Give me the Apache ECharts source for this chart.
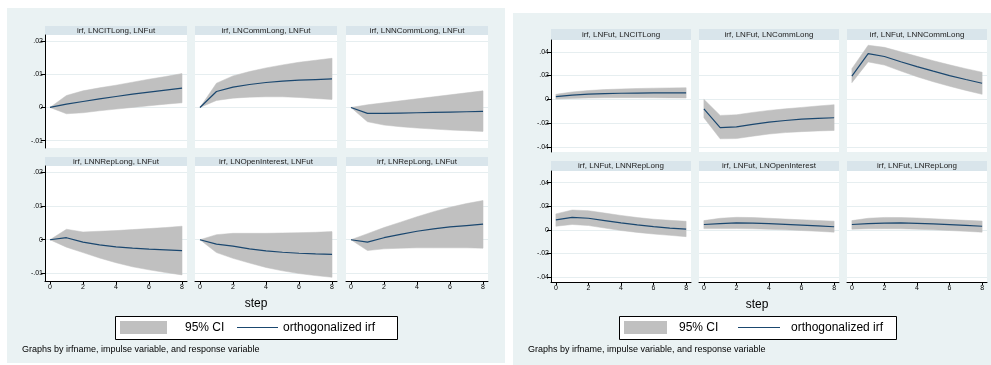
<!DOCTYPE html>
<html>
<head>
<meta charset="utf-8">
<script src="https://cdn.jsdelivr.net/npm/echarts@6/dist/echarts.min.js"></script>
<style>
  html, body { margin: 0; padding: 0; background: #ffffff; }
  #chart { width: 991px; height: 365px; }
</style>
</head>
<body>
<div id="chart"></div>
<script>
// Impulse-response functions, 8-step horizon, with 95% confidence bands
const steps = [0, 1, 2, 3, 4, 5, 6, 7, 8];
const xTicks = [0, 2, 4, 6, 8];
const leftYTicks = [-0.01, 0, 0.01, 0.02];
const rightYTicks = [-0.04, -0.02, 0, 0.02, 0.04];

// Response of LNFut to each impulse
const leftTitles = [
  'irf, LNCITLong, LNFut', 'irf, LNCommLong, LNFut', 'irf, LNNCommLong, LNFut',
  'irf, LNNRepLong, LNFut', 'irf, LNOpenInterest, LNFut', 'irf, LNRepLong, LNFut'
];
const citFutIrf = [0, 0.0010, 0.0018, 0.0026, 0.0033, 0.0040, 0.0046, 0.0052, 0.0058];
const citFutLo  = [0, -0.0019, -0.0016, -0.0010, -0.0005, 0.0000, 0.0005, 0.0010, 0.0014];
const citFutHi  = [0, 0.0036, 0.0050, 0.0059, 0.0067, 0.0076, 0.0085, 0.0093, 0.0102];

const commFutIrf = [0, 0.0048, 0.0061, 0.0069, 0.0075, 0.0079, 0.0082, 0.0084, 0.0086];
const commFutLo  = [0, 0.0021, 0.0028, 0.0031, 0.0032, 0.0032, 0.0030, 0.0027, 0.0024];
const commFutHi  = [0, 0.0073, 0.0095, 0.0108, 0.0119, 0.0128, 0.0136, 0.0142, 0.0148];

const ncommFutIrf = [0, -0.0018, -0.0018, -0.0017, -0.0016, -0.0015, -0.0014, -0.0013, -0.0012];
const ncommFutLo  = [0, -0.0043, -0.0053, -0.0058, -0.0062, -0.0065, -0.0068, -0.0070, -0.0072];
const ncommFutHi  = [0, 0.0008, 0.0014, 0.0020, 0.0026, 0.0032, 0.0038, 0.0044, 0.0050];

const nrepFutIrf = [0, 0.0006, -0.0007, -0.0015, -0.0021, -0.0025, -0.0028, -0.0030, -0.0032];
const nrepFutLo  = [0, -0.0022, -0.0038, -0.0054, -0.0068, -0.0080, -0.0089, -0.0097, -0.0104];
const nrepFutHi  = [0, 0.0031, 0.0023, 0.0025, 0.0027, 0.0030, 0.0033, 0.0036, 0.0040];

const oiFutIrf = [0, -0.0013, -0.0019, -0.0027, -0.0033, -0.0037, -0.0040, -0.0042, -0.0043];
const oiFutLo  = [0, -0.0038, -0.0055, -0.0069, -0.0082, -0.0092, -0.0100, -0.0106, -0.0111];
const oiFutHi  = [0, 0.0015, 0.0019, 0.0019, 0.0019, 0.0020, 0.0021, 0.0022, 0.0024];

const repFutIrf = [0, -0.0007, 0.0006, 0.0016, 0.0025, 0.0032, 0.0038, 0.0042, 0.0046];
const repFutLo  = [0, -0.0032, -0.0027, -0.0025, -0.0024, -0.0024, -0.0024, -0.0024, -0.0025];
const repFutHi  = [0, 0.0018, 0.0036, 0.0052, 0.0068, 0.0083, 0.0096, 0.0107, 0.0116];

// Response of each position variable to an LNFut impulse
const rightTitles = [
  'irf, LNFut, LNCITLong', 'irf, LNFut, LNCommLong', 'irf, LNFut, LNNCommLong',
  'irf, LNFut, LNNRepLong', 'irf, LNFut, LNOpenInterest', 'irf, LNFut, LNRepLong'
];
const futCitIrf = [0.0022, 0.0035, 0.0043, 0.0048, 0.0051, 0.0053, 0.0054, 0.0055, 0.0055];
const futCitLo  = [0.0002, 0.0008, 0.0011, 0.0013, 0.0014, 0.0014, 0.0013, 0.0012, 0.0011];
const futCitHi  = [0.0042, 0.0062, 0.0074, 0.0082, 0.0087, 0.0091, 0.0094, 0.0096, 0.0098];

const futCommIrf = [-0.0080, -0.0238, -0.0232, -0.0210, -0.0192, -0.0178, -0.0167, -0.0160, -0.0155];
const futCommLo  = [-0.0155, -0.0332, -0.0330, -0.0310, -0.0292, -0.0280, -0.0272, -0.0266, -0.0262];
const futCommHi  = [0.0000, -0.0135, -0.0130, -0.0110, -0.0093, -0.0080, -0.0068, -0.0056, -0.0045];

const futNcommIrf = [0.0195, 0.0385, 0.0360, 0.0316, 0.0275, 0.0237, 0.0200, 0.0167, 0.0135];
const futNcommLo  = [0.0140, 0.0315, 0.0288, 0.0238, 0.0190, 0.0148, 0.0110, 0.0075, 0.0042];
const futNcommHi  = [0.0258, 0.0455, 0.0437, 0.0400, 0.0362, 0.0325, 0.0290, 0.0258, 0.0228];

const futNrepIrf = [0.0085, 0.0105, 0.0098, 0.0078, 0.0058, 0.0041, 0.0027, 0.0015, 0.0005];
const futNrepLo  = [0.0030, 0.0045, 0.0036, 0.0015, -0.0006, -0.0022, -0.0036, -0.0047, -0.0058];
const futNrepHi  = [0.0135, 0.0168, 0.0162, 0.0142, 0.0122, 0.0104, 0.0090, 0.0080, 0.0072];

const futOiIrf = [0.0045, 0.0053, 0.0058, 0.0057, 0.0052, 0.0046, 0.0040, 0.0033, 0.0026];
const futOiLo  = [0.0010, 0.0010, 0.0010, 0.0008, 0.0004, 0.0000, -0.0006, -0.0013, -0.0020];
const futOiHi  = [0.0078, 0.0098, 0.0106, 0.0104, 0.0098, 0.0091, 0.0085, 0.0079, 0.0073];

const futRepIrf = [0.0045, 0.0052, 0.0057, 0.0058, 0.0055, 0.0050, 0.0044, 0.0037, 0.0030];
const futRepLo  = [0.0005, 0.0008, 0.0009, 0.0008, 0.0005, 0.0000, -0.0006, -0.0013, -0.0020];
const futRepHi  = [0.0078, 0.0098, 0.0105, 0.0104, 0.0100, 0.0094, 0.0087, 0.0080, 0.0074];

const legendCiText = '95% CI';
const legendIrfText = 'orthogonalized irf';
const xAxisTitle = 'step';
const noteText = 'Graphs by irfname, impulse variable, and response variable';

// ---- styling ----
const FONT = '"Liberation Sans", Arial, Helvetica, sans-serif';
const BG = '#eaf2f3';
const STRIP = '#d9e5eb';
const GRIDLINE = '#e6eef0';
const CI_FILL = '#c0c0c0';
const IRF_LINE = '#1a476f';

const figures = [
  {
    panels: [
      { title: leftTitles[0], irf: citFutIrf,   lo: citFutLo,   hi: citFutHi },
      { title: leftTitles[1], irf: commFutIrf,  lo: commFutLo,  hi: commFutHi },
      { title: leftTitles[2], irf: ncommFutIrf, lo: ncommFutLo, hi: ncommFutHi },
      { title: leftTitles[3], irf: nrepFutIrf,  lo: nrepFutLo,  hi: nrepFutHi },
      { title: leftTitles[4], irf: oiFutIrf,    lo: oiFutLo,    hi: oiFutHi },
      { title: leftTitles[5], irf: repFutIrf,   lo: repFutLo,   hi: repFutHi }
    ],
    yTicks: leftYTicks, yMin: -0.0122, yMax: 0.0218,
    bg: { x: 7, y: 8, w: 498, h: 355 },
    colX: [45, 195, 346], colW: 142,
    rowTop: [35, 166], rowH: [113, 115], stripH: [9, 9],
    legend: { x: 115, y: 316, w: 282, h: 23, sw: 47, txt1: 185, l1: 237, l2: 278, txt2: 283 },
    stepPos: { x: 256, y: 304 },
    notePos: { x: 22, y: 350 }
  },
  {
    panels: [
      { title: rightTitles[0], irf: futCitIrf,   lo: futCitLo,   hi: futCitHi },
      { title: rightTitles[1], irf: futCommIrf,  lo: futCommLo,  hi: futCommHi },
      { title: rightTitles[2], irf: futNcommIrf, lo: futNcommLo, hi: futNcommHi },
      { title: rightTitles[3], irf: futNrepIrf,  lo: futNrepLo,  hi: futNrepHi },
      { title: rightTitles[4], irf: futOiIrf,    lo: futOiLo,    hi: futOiHi },
      { title: rightTitles[5], irf: futRepIrf,   lo: futRepLo,   hi: futRepHi }
    ],
    yTicks: rightYTicks, yMin: -0.0443, yMax: 0.0499,
    bg: { x: 513, y: 13, w: 478, h: 352 },
    colX: [551, 699, 847], colW: 140,
    rowTop: [40, 171], rowH: [112, 111], stripH: [11, 10],
    legend: { x: 619, y: 316, w: 277, h: 23, sw: 43, txt1: 679, l1: 738, l2: 780, txt2: 791 },
    stepPos: { x: 757, y: 305 },
    notePos: { x: 528, y: 350 }
  }
];

function stataTick(v) {
  if (Math.abs(v) < 1e-12) return '0';
  const s = String(+Math.abs(v).toFixed(4)).replace(/^0/, '');
  return (v < 0 ? '-' : '') + s;
}

// Confidence band: one polygon through the upper bounds and back along the lower bounds
function renderBand(params, api) {
  if (params.dataIndexInside !== 0) return null;
  const n = params.dataInsideLength;
  const upper = [], lower = [];
  for (let j = 0; j < n; j++) {
    upper.push(api.coord([api.value(0, j), api.value(2, j)]));
    lower.push(api.coord([api.value(0, j), api.value(1, j)]));
  }
  return {
    type: 'polygon',
    shape: { points: upper.concat(lower.reverse()) },
    style: { fill: CI_FILL, stroke: CI_FILL, lineWidth: 0.5 }
  };
}

const grids = [], xAxes = [], yAxes = [], series = [], graphics = [];

figures.forEach(fig => {
  // figure background
  graphics.push({
    type: 'rect', z: -10, silent: true,
    shape: { x: fig.bg.x, y: fig.bg.y, width: fig.bg.w, height: fig.bg.h },
    style: { fill: BG }
  });

  fig.panels.forEach((p, i) => {
    const row = Math.floor(i / 3), col = i % 3;
    const k = grids.length;
    const left = fig.colX[col], top = fig.rowTop[row];
    const w = fig.colW, h = fig.rowH[row], sh = fig.stripH[row];

    grids.push({
      left: left, top: top, width: w, height: h,
      show: true, backgroundColor: '#ffffff', borderWidth: 0, containLabel: false
    });

    xAxes.push({
      gridIndex: k, type: 'value', min: -0.3, max: 8.3,
      axisLine: { show: row === 1, onZero: false, lineStyle: { color: '#000', width: 1 } },
      axisTick: { show: row === 1, customValues: xTicks, length: 3, lineStyle: { color: '#000' } },
      axisLabel: { show: row === 1, customValues: xTicks, fontSize: 7, fontFamily: FONT, color: '#000', margin: 3 },
      splitLine: { show: false }
    });

    yAxes.push({
      gridIndex: k, type: 'value', min: fig.yMin, max: fig.yMax,
      axisLine: { show: col === 0, onZero: false, lineStyle: { color: '#000', width: 1 } },
      axisTick: { show: col === 0, customValues: fig.yTicks, length: 4, lineStyle: { color: '#000' } },
      axisLabel: { show: col === 0, customValues: fig.yTicks, formatter: stataTick,
                   fontSize: 7, fontFamily: FONT, color: '#000', margin: 2 },
      splitLine: { show: true, lineStyle: { color: GRIDLINE, width: 1 } }
    });

    series.push({
      name: legendCiText, type: 'custom', xAxisIndex: k, yAxisIndex: k, silent: true,
      renderItem: renderBand,
      encode: { x: 0, y: [1, 2] },
      data: steps.map((s, j) => [s, p.lo[j], p.hi[j]])
    });
    series.push({
      name: legendIrfText, type: 'line', xAxisIndex: k, yAxisIndex: k, silent: true,
      symbol: 'none', lineStyle: { color: IRF_LINE, width: 1.2 }, z: 3,
      data: steps.map((s, j) => [s, p.irf[j]])
    });

    // panel strip title
    graphics.push({
      type: 'rect', silent: true,
      shape: { x: left, y: top - sh, width: w, height: sh },
      style: { fill: STRIP }
    });
    graphics.push({
      type: 'text', silent: true, x: left + w / 2, y: top - sh / 2,
      style: { text: p.title, fontSize: 8, fontFamily: FONT, fill: '#222',
               align: 'center', verticalAlign: 'middle', textAlign: 'center', textVerticalAlign: 'middle' }
    });
  });

  // x-axis title
  graphics.push({
    type: 'text', silent: true, x: fig.stepPos.x, y: fig.stepPos.y,
    style: { text: xAxisTitle, fontSize: 12, fontFamily: FONT, fill: '#000',
             align: 'center', verticalAlign: 'middle', textAlign: 'center', textVerticalAlign: 'middle' }
  });

  // legend
  const L = fig.legend, cy = L.y + L.h / 2;
  graphics.push({
    type: 'rect', silent: true,
    shape: { x: L.x + 0.5, y: L.y + 0.5, width: L.w, height: L.h },
    style: { fill: '#ffffff', stroke: '#000', lineWidth: 1 }
  });
  graphics.push({
    type: 'rect', silent: true,
    shape: { x: L.x + 5, y: L.y + 5, width: L.sw, height: L.h - 10 },
    style: { fill: CI_FILL }
  });
  graphics.push({
    type: 'text', silent: true, x: L.txt1, y: cy,
    style: { text: legendCiText, fontSize: 12, fontFamily: FONT, fill: '#000',
             align: 'left', verticalAlign: 'middle', textAlign: 'left', textVerticalAlign: 'middle' }
  });
  graphics.push({
    type: 'line', silent: true,
    shape: { x1: L.l1, y1: cy, x2: L.l2, y2: cy },
    style: { stroke: IRF_LINE, lineWidth: 1.2 }
  });
  graphics.push({
    type: 'text', silent: true, x: L.txt2, y: cy,
    style: { text: legendIrfText, fontSize: 12, fontFamily: FONT, fill: '#000',
             align: 'left', verticalAlign: 'middle', textAlign: 'left', textVerticalAlign: 'middle' }
  });

  // note
  graphics.push({
    type: 'text', silent: true, x: fig.notePos.x, y: fig.notePos.y,
    style: { text: noteText, fontSize: 9, fontFamily: FONT, fill: '#000',
             align: 'left', verticalAlign: 'middle', textAlign: 'left', textVerticalAlign: 'middle' }
  });
});

const chart = echarts.init(document.getElementById('chart'), null, { renderer: 'canvas' });
chart.setOption({
  backgroundColor: '#ffffff',
  animation: false,
  grid: grids,
  xAxis: xAxes,
  yAxis: yAxes,
  series: series,
  graphic: { elements: graphics }
});
</script>
</body>
</html>
